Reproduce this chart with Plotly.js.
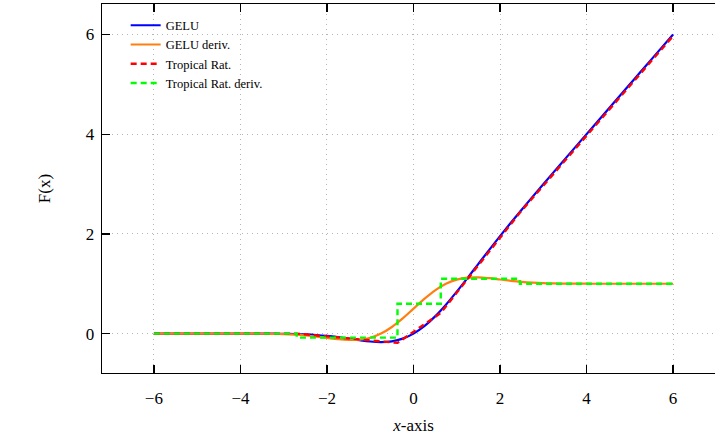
<!DOCTYPE html>
<html>
<head>
<meta charset="utf-8">
<script src="https://cdn.plot.ly/plotly-3.0.1.min.js"></script>
<style>
html, body { margin: 0; padding: 0; overflow: hidden; background: #fff; }
#chart { width: 730px; height: 439px; }
</style>
</head>
<body>
<div id="chart"></div>
<script>
// Sample points (x) for the smooth curves
const xs = [-6, -5.75, -5.5, -5.25, -5, -4.75, -4.5, -4.25, -4, -3.75, -3.5, -3.25, -3, -2.75, -2.5, -2.25, -2, -1.75, -1.5, -1.25, -1, -0.75, -0.5, -0.25, 0, 0.25, 0.5, 0.75, 1, 1.25, 1.5, 1.75, 2, 2.25, 2.5, 2.75, 3, 3.25, 3.5, 3.75, 4, 4.25, 4.5, 4.75, 5, 5.25, 5.5, 5.75, 6];

// GELU values read at xs
const geluVals = [0, 0, 0, 0, 0, 0, 0, 0, -0.0001, -0.0003, -0.0008, -0.0019, -0.0040, -0.0082, -0.0155, -0.0275, -0.0455, -0.0702, -0.1002, -0.1320, -0.1587, -0.1700, -0.1543, -0.1003, 0, 0.1497, 0.3457, 0.5800, 0.8413, 1.1180, 1.3998, 1.6798, 1.9545, 2.2225, 2.4845, 2.7418, 2.9960, 3.2481, 3.4992, 3.7497, 3.9999, 4.25, 4.5, 4.75, 5, 5.25, 5.5, 5.75, 6];

// GELU derivative values read at xs
const geluDerivVals = [0, 0, 0, 0, 0, 0, -0.0001, -0.0002, -0.0005, -0.0012, -0.0028, -0.0059, -0.0119, -0.0220, -0.0376, -0.0591, -0.0852, -0.1109, -0.1275, -0.1227, -0.0833, 0.0008, 0.1325, 0.3046, 0.5, 0.6954, 0.8675, 0.9992, 1.0833, 1.1227, 1.1275, 1.1109, 1.0852, 1.0591, 1.0376, 1.0220, 1.0119, 1.0059, 1.0028, 1.0012, 1.0005, 1.0002, 1.0001, 1, 1, 1, 1, 1, 1];

// Tropical rational approximation: breakpoints and values
const tropX = [-6, -2.7, -0.37, 0.63, 2.46, 6];
const tropVals = [0, 0, -0.186, 0.414, 2.427, 5.97];

// Tropical rational derivative: piecewise constant levels (starting at each breakpoint)
const tropDerivVals = [0, -0.08, 0.6, 1.1, 1.0, 1.0];

const seriesNames = ["GELU", "GELU deriv.", "Tropical Rat.", "Tropical Rat. deriv."];
const xTicks = [-6, -4, -2, 0, 2, 4, 6];
const yTicks = [0, 2, 4, 6];

const serif = "Liberation Serif";

const traces = [
  { x: xs, y: geluVals, name: seriesNames[0], type: "scatter", mode: "lines",
    line: { color: "#0000ff", width: 2.2, shape: "spline" } },
  { x: xs, y: geluDerivVals, name: seriesNames[1], type: "scatter", mode: "lines",
    line: { color: "#ff7f0e", width: 2.2, shape: "spline" } },
  { x: tropX, y: tropVals, name: seriesNames[2], type: "scatter", mode: "lines",
    line: { color: "#ff0000", width: 2.4, dash: "6px,4px" } },
  { x: tropX, y: tropDerivVals, name: seriesNames[3], type: "scatter", mode: "lines",
    line: { color: "#00ff00", width: 2.4, dash: "6px,4px", shape: "hv" } }
];

const axisCommon = {
  showline: true, linecolor: "#000", linewidth: 1.4,
  mirror: "ticks", ticks: "inside", ticklen: 8, tickwidth: 1.3, tickcolor: "#000",
  showgrid: true, gridcolor: "#b4b4b4", gridwidth: 1, griddash: "1px,4px",
  zeroline: false,
  tickfont: { family: serif, size: 17, color: "#000" }
};

const layout = {
  width: 730, height: 439,
  margin: { l: 102, r: 5.2, t: 4, b: 66.3 },
  paper_bgcolor: "#fff", plot_bgcolor: "#fff",
  font: { family: serif, color: "#000" },
  showlegend: true,
  legend: {
    x: 0.038, y: 0.982, xanchor: "left", yanchor: "top",
    bgcolor: "rgba(255,255,255,0)", borderwidth: 0,
    font: { family: serif, size: 12.5, color: "#000" },
    tracegroupgap: 0
  },
  xaxis: Object.assign({}, axisCommon, {
    range: [-7.2, 7.2], tickvals: xTicks, ticktext: xTicks.map(v => (v < 0 ? "\u2212" + Math.abs(v) : String(v))),
    ticklabelstandoff: 9,
    title: { text: "<i>x</i>-axis", font: { family: serif, size: 17, color: "#000" }, standoff: 12 }
  }),
  yaxis: Object.assign({}, axisCommon, {
    range: [-0.79, 6.61], tickvals: yTicks, ticktext: yTicks.map(String),
    ticklabelstandoff: 3,
    title: { text: "F(x)", font: { family: serif, size: 17, color: "#000" }, standoff: 30 }
  })
};

Plotly.newPlot("chart", traces, layout, { displayModeBar: false, staticPlot: true });
</script>
</body>
</html>
